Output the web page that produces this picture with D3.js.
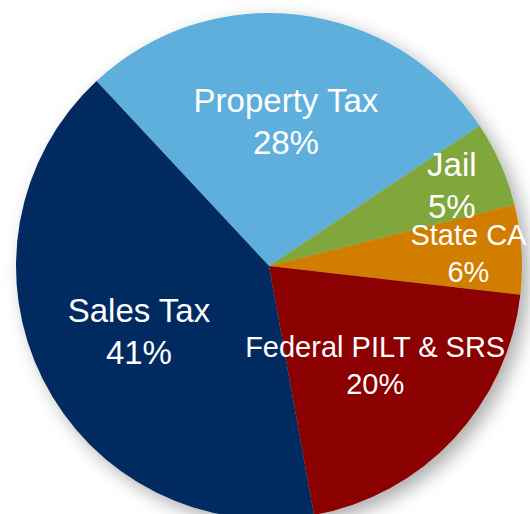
<!DOCTYPE html>
<html>
<head>
<meta charset="utf-8">
<script src="https://cdn.jsdelivr.net/npm/d3@7"></script>
<style>
  body { margin: 0; background: #fff; }
  svg { display: block; }
  text { font-family: "Liberation Sans", Arial, sans-serif; fill: #fff; }
</style>
</head>
<body>
<svg width="530" height="514"></svg>
<script>
// revenue sources, in pie order (clockwise from the top-left edge)
var categories = ["Property Tax", "Jail", "State CA", "Federal PILT & SRS", "Sales Tax"];
var shares = [27.6, 5.45, 5.7, 20.35, 40.9];

var colors = d3.scaleOrdinal()
    .domain(categories)
    .range(["#5EAFDD", "#7FA73A", "#D07D05", "#8B0000", "#002A60"]);

// two labels are set a bit smaller
var smallLabels = ["State CA", "Federal PILT & SRS"];

var svg = d3.select("svg"),
    width = +svg.attr("width"),
    height = +svg.attr("height"),
    cx = 269,
    cy = 266,
    radius = 253;

var defs = svg.append("defs");
var shadow = defs.append("filter")
    .attr("id", "shadow")
    .attr("x", "-20%").attr("y", "-20%")
    .attr("width", "140%").attr("height", "140%");
shadow.append("feDropShadow")
    .attr("dx", 7)
    .attr("dy", 7)
    .attr("stdDeviation", 9)
    .attr("flood-color", "#000")
    .attr("flood-opacity", 0.32);

var data = categories.map(function (c, i) { return {name: c, value: shares[i]}; });

var pie = d3.pie()
    .sort(null)
    .value(function (d) { return d.value; })
    .startAngle(-43 * Math.PI / 180)
    .endAngle((360 - 43) * Math.PI / 180);

var arc = d3.arc().innerRadius(0).outerRadius(radius);
var bigLabelArc = d3.arc().innerRadius(radius * 0.575).outerRadius(radius * 0.575);
var smallLabelArc = d3.arc().innerRadius(radius * 0.79).outerRadius(radius * 0.79);

var g = svg.append("g").attr("transform", "translate(" + cx + "," + cy + ")");

var arcs = pie(data);

g.append("g")
    .attr("filter", "url(#shadow)")
    .selectAll("path")
    .data(arcs)
    .enter()
    .append("path")
    .attr("d", arc)
    .attr("fill", function (d) { return colors(d.data.name); });

var label = g.selectAll(".label")
    .data(arcs)
    .enter()
    .append("text")
    .attr("class", "label")
    .attr("text-anchor", "middle")
    .attr("transform", function (d) {
        var p = (d.data.value < 10 ? smallLabelArc : bigLabelArc).centroid(d);
        return "translate(" + p[0] + "," + p[1] + ")";
    })
    .style("font-size", function (d) {
        return smallLabels.indexOf(d.data.name) >= 0 ? "29px" : "33px";
    });

label.each(function (d) {
    var fs = smallLabels.indexOf(d.data.name) >= 0 ? 29 : 33;
    var spacing = fs * 1.27;
    var cap = fs * 0.716;
    var t = d3.select(this);
    t.append("tspan")
        .attr("x", 0)
        .attr("y", -spacing / 2 + cap / 2)
        .text(d.data.name);
    t.append("tspan")
        .attr("x", 0)
        .attr("y", spacing / 2 + cap / 2)
        .text(Math.round(d.data.value) + "%");
});
</script>
</body>
</html>
